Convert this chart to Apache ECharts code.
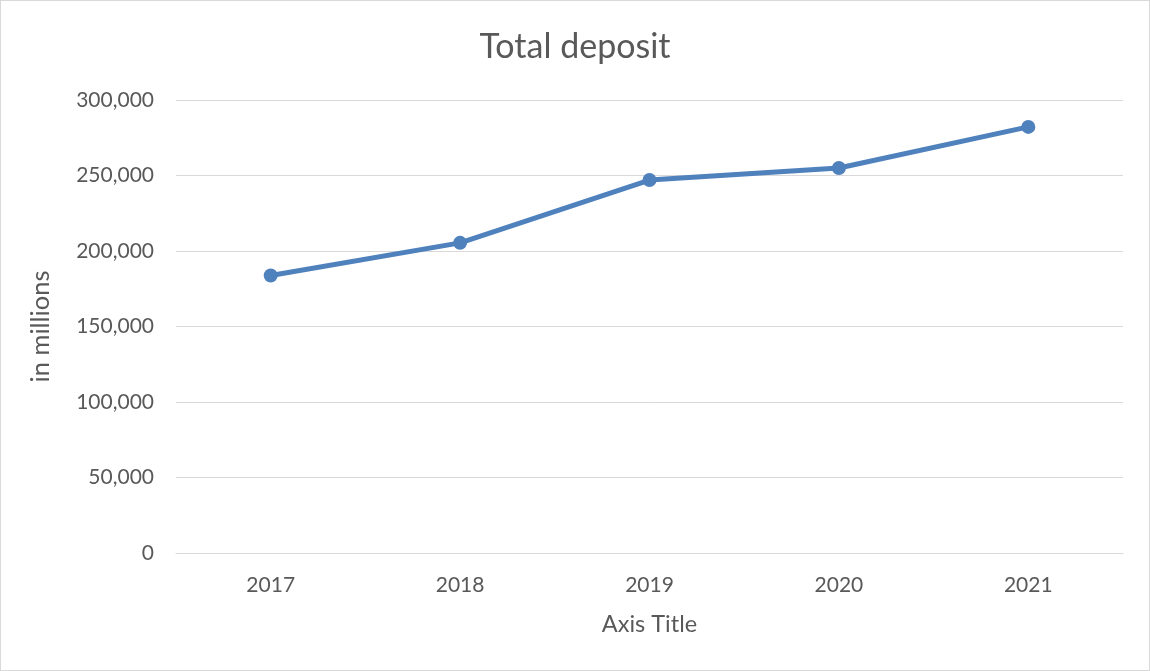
<!DOCTYPE html>
<html>
<head>
<meta charset="utf-8">
<style>
  html, body { margin: 0; padding: 0; background: #fff; }
  #chart { width: 1150px; height: 671px; box-sizing: border-box; border: 1px solid #d9d9d9; }
</style>
<script src="https://cdn.jsdelivr.net/npm/echarts@6/dist/echarts.min.js"></script>
</head>
<body>
<div id="chart"></div>
<script>
// Yearly totals, in millions
const years = ['2017', '2018', '2019', '2020', '2021'];
const totalDeposit = [183800, 205400, 247000, 255000, 282200];

const textColor = '#595959';
const fontFamily = 'Lato, "Open Sans", sans-serif';

const chart = echarts.init(document.getElementById('chart'));
chart.setOption({
  animation: false,
  textStyle: { fontFamily: fontFamily, color: textColor },
  title: {
    text: 'Total deposit',
    left: 'center',
    top: 24,
    textStyle: { fontSize: 34, fontWeight: 'normal', color: textColor, fontFamily: fontFamily }
  },
  grid: { left: 175, right: 26, top: 99, bottom: 117 },
  xAxis: {
    type: 'category',
    data: years,
    boundaryGap: true,
    name: 'Axis Title',
    nameLocation: 'middle',
    nameGap: 59,
    nameTextStyle: { fontSize: 23.5, color: textColor, fontFamily: fontFamily },
    axisLine: { lineStyle: { color: '#d9d9d9', width: 1 } },
    axisTick: { show: false },
    axisLabel: { fontSize: 21, color: textColor, margin: 22, fontFamily: fontFamily }
  },
  yAxis: {
    type: 'value',
    min: 0,
    max: 300000,
    interval: 50000,
    name: 'in millions',
    nameLocation: 'middle',
    nameGap: 122,
    nameRotate: 90,
    nameTextStyle: { fontSize: 25.5, color: textColor, fontFamily: fontFamily },
    axisLine: { show: false },
    axisTick: { show: false },
    splitLine: { lineStyle: { color: '#d9d9d9', width: 1 } },
    axisLabel: {
      fontSize: 21,
      color: textColor,
      margin: 22,
      fontFamily: fontFamily,
      formatter: v => v.toLocaleString('en-US')
    }
  },
  series: [{
    type: 'line',
    data: totalDeposit,
    symbol: 'circle',
    symbolSize: 14,
    lineStyle: { color: '#4f81bd', width: 5 },
    itemStyle: { color: '#4f81bd' }
  }]
});
</script>
</body>
</html>
